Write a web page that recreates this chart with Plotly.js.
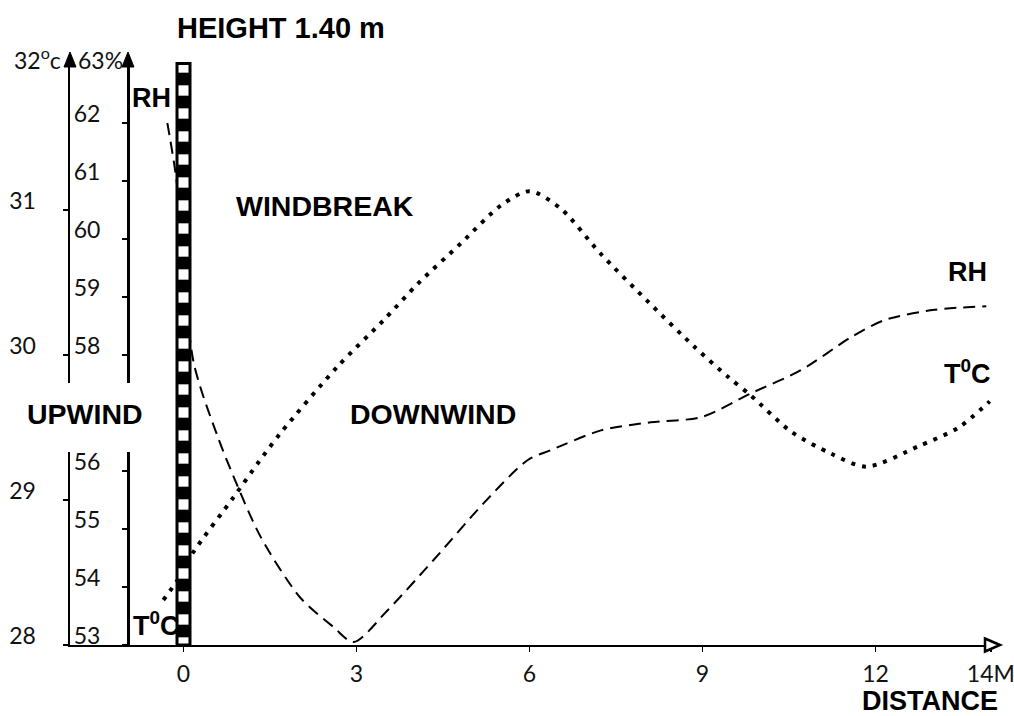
<!DOCTYPE html>
<html>
<head>
<meta charset="utf-8">
<script src="https://cdn.plot.ly/plotly-3.0.1.min.js"></script>
<style>html,body{margin:0;padding:0;background:#fff;}#chart{width:1014px;height:716px;}</style>
</head>
<body>
<div id="chart"></div>
<script>
// ---- data ----
const tempDist   = [-0.35, -0.10, 0.17, 0.87, 1.30, 1.68, 2.67, 3.47, 4.06, 4.81, 5.50, 6.00, 6.54, 7.23, 8.05, 8.85, 9.44, 9.84, 10.54, 11.23, 11.84, 12.74, 13.44, 13.98];
const tempValues = [28.31, 28.45, 28.64, 29.02, 29.26, 29.46, 29.92, 30.24, 30.49, 30.77, 31.03, 31.13, 31.01, 30.70, 30.37, 30.06, 29.85, 29.72, 29.47, 29.32, 29.23, 29.37, 29.50, 29.68];

const rhDist   = [-0.28, -0.12, 0.17, 0.59, 0.87, 1.34, 2.03, 2.60, 2.95, 3.54, 4.34, 5.21, 5.97, 6.37, 7.24, 8.10, 8.98, 9.84, 10.71, 11.58, 12.15, 13.02, 13.92];
const rhValues = [62.0, 61.0, 57.9, 56.6, 55.9, 54.86, 53.81, 53.31, 53.05, 53.6, 54.47, 55.45, 56.19, 56.36, 56.7, 56.84, 56.93, 57.34, 57.74, 58.31, 58.6, 58.78, 58.84];

const windbreakX = [0];
const windbreakTopT = [32.01];

const xTickVals = [0, 3, 6, 9, 12, 14];
const xTickText = ['0', '3', '6', '9', '12', '14M'];
const tempTickVals = [28, 29, 30, 31];
const tempTickText = ['28', '29', '30', '31'];
const rhTickVals = [53, 54, 55, 56, 58, 59, 60, 61, 62];
const rhTickText = ['53', '54', '55', '56', '58', '59', '60', '61', '62'];

// ---- geometry ----
const W = 1014, H = 716;
const mL = 70, mR = 17, mT = 56, mB = 71;
const plotW = W - mL - mR, plotH = H - mT - mB;
const pxPerM = 57.67, x0px = 183.5;
const pxPerC = 145;
const xMin = -(x0px - mL) / pxPerM;
const xMax = xMin + plotW / pxPerM;
const tMin = 28, tMax = 28 + plotH / pxPerC;
const rhMin = 53, rhMax = 53 + (tMax - tMin) * 2.5;

const px2paperX = p => (p - mL) / plotW;
const px2paperY = p => (H - mB - p) / plotH;

const tickFont = {family: 'Lato, "DejaVu Sans", sans-serif', size: 23, color: '#111', weight: 400};
const boldFont = {family: '"Liberation Sans", Arial, sans-serif', size: 28.5, color: '#000', weight: 'bold'};
const boldFontSm = {family: '"Liberation Sans", Arial, sans-serif', size: 27, color: '#000', weight: 'bold'};

const traces = [
  {
    type: 'scatter', mode: 'lines', x: tempDist, y: tempValues, yaxis: 'y',
    line: {color: '#000', width: 4, dash: '4px,7px', shape: 'spline', smoothing: 0.8},
    hoverinfo: 'skip'
  },
  {
    type: 'scatter', mode: 'lines', x: rhDist, y: rhValues, yaxis: 'y2',
    line: {color: '#000', width: 2, dash: '12px,7px', shape: 'spline', smoothing: 0.8},
    hoverinfo: 'skip'
  },
  {
    type: 'bar', x: windbreakX, base: [28], y: windbreakTopT.map(v => v - 28), yaxis: 'y3',
    width: 13 / pxPerM,
    marker: {
      color: '#000',
      line: {color: '#000', width: 3},
      pattern: {shape: '-', size: 23, solidity: 0.45, fgcolor: '#fff', bgcolor: '#000', fillmode: 'replace'}
    },
    hoverinfo: 'skip'
  }
];

const annotations = [
  {xref: 'paper', yref: 'paper', x: px2paperX(281), y: px2paperY(28), text: 'HEIGHT 1.40 m', showarrow: false, font: Object.assign({}, boldFont, {size: 29}), xanchor: 'center', yanchor: 'middle'},
  {xref: 'x', yref: 'y', x: 2.45, y: 31.03, text: 'WINDBREAK', showarrow: false, font: boldFont},
  {xref: 'x', yref: 'y', x: 4.33, y: 29.59, text: 'DOWNWIND', showarrow: false, font: boldFont},
  {xref: 'x', yref: 'y', x: -1.71, y: 29.59, text: 'UPWIND', showarrow: false, font: boldFont},
  {xref: 'x', yref: 'y', x: -0.55, y: 31.77, text: 'RH', showarrow: false, font: boldFontSm},
  {xref: 'x', yref: 'y', x: -0.46, y: 28.145, text: 'T<sup>0</sup>C', showarrow: false, font: boldFontSm},
  {xref: 'x', yref: 'y', x: 13.59, y: 30.57, text: 'RH', showarrow: false, font: boldFontSm},
  {xref: 'x', yref: 'y', x: 13.6, y: 29.88, text: 'T<sup>0</sup>C', showarrow: false, font: boldFontSm},
  {xref: 'paper', yref: 'paper', x: px2paperX(1000), y: px2paperY(701), text: 'DISTANCE', showarrow: false, font: boldFontSm, xanchor: 'right', yanchor: 'middle'},
  // top unit labels
  {xref: 'paper', yref: 'paper', x: px2paperX(12), y: px2paperY(58), text: '32<sup>o</sup>c', showarrow: false, font: tickFont, xanchor: 'left', yanchor: 'middle'},
  {xref: 'paper', yref: 'paper', x: px2paperX(76), y: px2paperY(60), text: '63%', showarrow: false, font: tickFont, xanchor: 'left', yanchor: 'middle'}
];

const arrowUp = 'M0,0 L-6,-15 L6,-15 Z';
const arrowRight = 'M0,0 L-15,6.5 L-15,-6.5 Z';

const layout = {
  width: W, height: H,
  margin: {l: mL, r: mR, t: mT, b: mB, pad: 0},
  paper_bgcolor: '#fff', plot_bgcolor: '#fff',
  showlegend: false,
  xaxis: {
    range: [xMin, xMax], showgrid: false, zeroline: false,
    showline: true, linecolor: '#000', linewidth: 2,
    ticks: 'outside', ticklen: 5, tickwidth: 1.5, tickcolor: '#000',
    tickvals: xTickVals, ticktext: xTickText, tickfont: tickFont,
    ticklabelstandoff: 2, ticklabeloverflow: 'allow'
  },
  yaxis: {
    range: [tMin, tMax], showgrid: false, zeroline: false,
    showline: true, linecolor: '#000', linewidth: 2.5,
    ticks: 'outside', ticklen: 5, tickwidth: 1.5, tickcolor: '#000',
    tickvals: tempTickVals, ticktext: tempTickText, tickfont: tickFont,
    ticklabelstandoff: 22, ticklabelshift: -9, ticklabeloverflow: 'allow'
  },
  yaxis2: {
    range: [rhMin, rhMax], overlaying: 'y', anchor: 'free', side: 'left', position: px2paperX(128),
    showgrid: false, zeroline: false,
    showline: true, linecolor: '#000', linewidth: 2.5,
    ticks: 'outside', ticklen: 5, tickwidth: 1.5, tickcolor: '#000',
    tickvals: rhTickVals, ticktext: rhTickText, tickfont: tickFont,
    ticklabelstandoff: 17, ticklabelshift: -9, ticklabeloverflow: 'allow'
  },
  yaxis3: {range: [tMin, tMax], overlaying: 'y', visible: false},
  shapes: [
    {type: 'rect', xref: 'paper', yref: 'paper', layer: 'above',
     x0: px2paperX(62), x1: px2paperX(136), y0: px2paperY(452), y1: px2paperY(383),
     fillcolor: '#fff', line: {width: 0}},
    {type: 'path', xref: 'paper', yref: 'paper', layer: 'above', xsizemode: 'pixel', ysizemode: 'pixel',
     xanchor: 0, yanchor: px2paperY(52), path: arrowUp, fillcolor: '#000', line: {color: '#000', width: 1}},
    {type: 'path', xref: 'paper', yref: 'paper', layer: 'above', xsizemode: 'pixel', ysizemode: 'pixel',
     xanchor: px2paperX(128), yanchor: px2paperY(52), path: arrowUp, fillcolor: '#000', line: {color: '#000', width: 1}},
    {type: 'path', xref: 'paper', yref: 'paper', layer: 'above', xsizemode: 'pixel', ysizemode: 'pixel',
     xanchor: px2paperX(1000), yanchor: 0, path: arrowRight, fillcolor: '#fff', line: {color: '#000', width: 2.5}}
  ],
  annotations: annotations
};

Plotly.newPlot('chart', traces, layout, {staticPlot: true, displayModeBar: false});
</script>
</body>
</html>
